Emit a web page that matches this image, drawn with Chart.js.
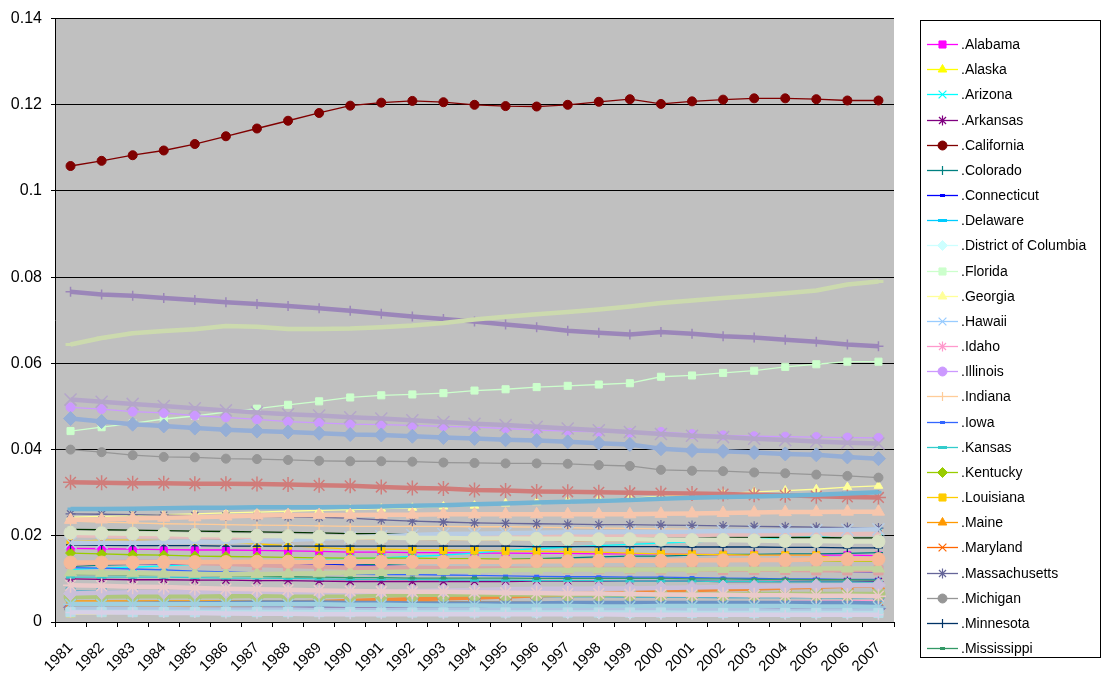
<!DOCTYPE html>
<html>
<head>
<meta charset="utf-8">
<script src="https://cdn.jsdelivr.net/npm/chart.js@4.4.0/dist/chart.umd.min.js"></script>
<style>
html, body { margin: 0; padding: 0; background: #ffffff; }
canvas { display: block; }
</style>
</head>
<body>
<canvas id="chart" width="1102" height="675"></canvas>
<script>
// Share of U.S. population by state, 1981-2007
const years = ['1981','1982','1983','1984','1985','1986','1987','1988','1989','1990','1991','1992','1993','1994','1995','1996','1997','1998','1999','2000','2001','2002','2003','2004','2005','2006','2007'];
const yTicks = [0, 0.02, 0.04, 0.06, 0.08, 0.1, 0.12, 0.14];

const alabama = [0.0171,0.0170,0.0169,0.0168,0.0167,0.0167,0.0166,0.0165,0.0164,0.0162,0.0162,0.0161,0.0161,0.0160,0.0160,0.0159,0.0159,0.0158,0.0158,0.0158,0.0157,0.0156,0.0156,0.0155,0.0155,0.0155,0.0154];
const alaska = [0.0018,0.0019,0.0021,0.0022,0.0023,0.0023,0.0022,0.0022,0.0022,0.0022,0.0022,0.0023,0.0023,0.0023,0.0023,0.0022,0.0022,0.0022,0.0022,0.0022,0.0022,0.0022,0.0022,0.0022,0.0023,0.0023,0.0023];
const arizona = [0.0122,0.0125,0.0127,0.0130,0.0134,0.0137,0.0140,0.0143,0.0145,0.0147,0.0149,0.0152,0.0155,0.0160,0.0166,0.0170,0.0174,0.0177,0.0180,0.0183,0.0186,0.0189,0.0192,0.0195,0.0198,0.0204,0.0210];
const arkansas = [0.0100,0.0099,0.0098,0.0098,0.0097,0.0097,0.0096,0.0096,0.0095,0.0094,0.0094,0.0094,0.0094,0.0094,0.0094,0.0095,0.0095,0.0095,0.0095,0.0095,0.0095,0.0094,0.0094,0.0094,0.0094,0.0094,0.0094];
const california = [0.1058,0.1070,0.1083,0.1094,0.1109,0.1127,0.1145,0.1163,0.1181,0.1198,0.1205,0.1209,0.1206,0.1200,0.1197,0.1196,0.1200,0.1207,0.1213,0.1202,0.1208,0.1212,0.1215,0.1215,0.1213,0.1210,0.1210];
const colorado = [0.0129,0.0132,0.0134,0.0135,0.0136,0.0136,0.0135,0.0134,0.0133,0.0132,0.0134,0.0136,0.0139,0.0142,0.0145,0.0147,0.0149,0.0151,0.0153,0.0153,0.0155,0.0157,0.0157,0.0158,0.0158,0.0159,0.0161];
const connecticut = [0.0136,0.0135,0.0135,0.0134,0.0134,0.0134,0.0134,0.0134,0.0133,0.0132,0.0130,0.0128,0.0126,0.0124,0.0123,0.0122,0.0121,0.0120,0.0121,0.0121,0.0120,0.0120,0.0119,0.0118,0.0118,0.0117,0.0116];
const delaware = [0.0026,0.0026,0.0026,0.0026,0.0027,0.0027,0.0027,0.0027,0.0027,0.0027,0.0027,0.0027,0.0027,0.0027,0.0027,0.0027,0.0027,0.0027,0.0028,0.0028,0.0028,0.0028,0.0028,0.0029,0.0029,0.0029,0.0029];
const districtOfColumbia = [0.0027,0.0027,0.0027,0.0026,0.0026,0.0026,0.0025,0.0025,0.0025,0.0024,0.0024,0.0023,0.0022,0.0022,0.0021,0.0020,0.0020,0.0019,0.0019,0.0020,0.0020,0.0020,0.0020,0.0019,0.0019,0.0019,0.0020];
const florida = [0.0443,0.0452,0.0461,0.0471,0.0478,0.0487,0.0495,0.0504,0.0512,0.0521,0.0526,0.0528,0.0531,0.0537,0.0540,0.0545,0.0548,0.0551,0.0554,0.0569,0.0572,0.0578,0.0583,0.0592,0.0598,0.0604,0.0604];
const georgia = [0.0243,0.0245,0.0247,0.0249,0.0251,0.0253,0.0255,0.0257,0.0259,0.0261,0.0263,0.0265,0.0268,0.0270,0.0275,0.0278,0.0281,0.0284,0.0287,0.0292,0.0295,0.0298,0.0302,0.0305,0.0308,0.0313,0.0316];
const hawaii = [0.0043,0.0043,0.0043,0.0044,0.0044,0.0044,0.0044,0.0044,0.0044,0.0044,0.0045,0.0045,0.0045,0.0045,0.0045,0.0044,0.0044,0.0044,0.0043,0.0043,0.0043,0.0043,0.0043,0.0043,0.0043,0.0043,0.0042];
const idaho = [0.0042,0.0042,0.0042,0.0042,0.0041,0.0041,0.0041,0.0041,0.0041,0.0041,0.0041,0.0042,0.0043,0.0044,0.0044,0.0045,0.0045,0.0045,0.0046,0.0046,0.0046,0.0047,0.0047,0.0048,0.0049,0.0049,0.0050];
const illinois = [0.0498,0.0494,0.0488,0.0485,0.0479,0.0475,0.0470,0.0465,0.0462,0.0459,0.0458,0.0456,0.0454,0.0452,0.0449,0.0445,0.0443,0.0441,0.0439,0.0441,0.0436,0.0433,0.0431,0.0430,0.0429,0.0428,0.0427];
const indiana = [0.0234,0.0232,0.0230,0.0228,0.0227,0.0226,0.0225,0.0224,0.0223,0.0222,0.0222,0.0222,0.0222,0.0221,0.0221,0.0220,0.0219,0.0218,0.0217,0.0216,0.0215,0.0214,0.0213,0.0213,0.0212,0.0211,0.0211];
const iowa = [0.0126,0.0125,0.0123,0.0121,0.0118,0.0116,0.0114,0.0113,0.0112,0.0111,0.0110,0.0110,0.0109,0.0108,0.0107,0.0106,0.0105,0.0105,0.0104,0.0104,0.0103,0.0102,0.0101,0.0100,0.0100,0.0099,0.0099];
const kansas = [0.0104,0.0104,0.0104,0.0104,0.0103,0.0102,0.0102,0.0101,0.0100,0.0099,0.0099,0.0099,0.0098,0.0097,0.0097,0.0096,0.0096,0.0096,0.0095,0.0095,0.0095,0.0094,0.0094,0.0093,0.0093,0.0093,0.0092];
const kentucky = [0.0160,0.0158,0.0156,0.0155,0.0153,0.0152,0.0151,0.0150,0.0149,0.0148,0.0148,0.0148,0.0147,0.0147,0.0146,0.0146,0.0145,0.0145,0.0144,0.0143,0.0143,0.0142,0.0142,0.0142,0.0141,0.0141,0.0141];
const louisiana = [0.0187,0.0190,0.0190,0.0189,0.0188,0.0186,0.0181,0.0177,0.0173,0.0169,0.0169,0.0168,0.0167,0.0166,0.0165,0.0164,0.0163,0.0162,0.0160,0.0158,0.0157,0.0156,0.0155,0.0155,0.0155,0.0142,0.0143];
const maine = [0.0049,0.0049,0.0049,0.0049,0.0049,0.0049,0.0049,0.0049,0.0050,0.0049,0.0048,0.0048,0.0047,0.0047,0.0046,0.0046,0.0046,0.0045,0.0045,0.0045,0.0045,0.0045,0.0045,0.0045,0.0045,0.0044,0.0044];
const maryland = [0.0186,0.0186,0.0187,0.0188,0.0189,0.0190,0.0191,0.0192,0.0193,0.0192,0.0192,0.0192,0.0191,0.0191,0.0190,0.0190,0.0189,0.0189,0.0189,0.0188,0.0188,0.0188,0.0188,0.0188,0.0188,0.0187,0.0187];
const massachusetts = [0.0251,0.0250,0.0249,0.0248,0.0247,0.0246,0.0245,0.0244,0.0243,0.0241,0.0237,0.0234,0.0232,0.0230,0.0229,0.0228,0.0227,0.0226,0.0226,0.0225,0.0224,0.0223,0.0222,0.0221,0.0220,0.0219,0.0218];
const michigan = [0.0400,0.0394,0.0387,0.0383,0.0382,0.0379,0.0378,0.0376,0.0374,0.0373,0.0373,0.0372,0.0370,0.0369,0.0368,0.0368,0.0367,0.0364,0.0362,0.0353,0.0351,0.0350,0.0347,0.0345,0.0342,0.0339,0.0335];
const minnesota = [0.0179,0.0178,0.0177,0.0177,0.0177,0.0176,0.0176,0.0176,0.0176,0.0176,0.0176,0.0176,0.0176,0.0176,0.0176,0.0175,0.0175,0.0175,0.0175,0.0175,0.0174,0.0174,0.0174,0.0173,0.0173,0.0172,0.0172];
const mississippi = [0.0110,0.0110,0.0109,0.0109,0.0108,0.0107,0.0106,0.0105,0.0104,0.0103,0.0103,0.0102,0.0102,0.0102,0.0102,0.0101,0.0101,0.0101,0.0101,0.0101,0.0100,0.0100,0.0099,0.0099,0.0098,0.0098,0.0097];
const missouri = [0.0215,0.0214,0.0213,0.0212,0.0211,0.0210,0.0209,0.0208,0.0207,0.0205,0.0205,0.0204,0.0203,0.0202,0.0201,0.0201,0.0200,0.0200,0.0199,0.0198,0.0198,0.0197,0.0197,0.0196,0.0196,0.0195,0.0195];
const montana = [0.0034,0.0035,0.0035,0.0035,0.0035,0.0034,0.0034,0.0033,0.0033,0.0032,0.0032,0.0032,0.0033,0.0033,0.0033,0.0033,0.0033,0.0032,0.0032,0.0032,0.0032,0.0032,0.0032,0.0032,0.0032,0.0032,0.0032];
const nebraska = [0.0069,0.0068,0.0068,0.0068,0.0067,0.0066,0.0065,0.0065,0.0064,0.0063,0.0063,0.0063,0.0063,0.0062,0.0062,0.0062,0.0062,0.0062,0.0061,0.0061,0.0061,0.0060,0.0060,0.0060,0.0060,0.0059,0.0059];
const nevada = [0.0037,0.0038,0.0038,0.0039,0.0040,0.0041,0.0042,0.0044,0.0046,0.0049,0.0051,0.0053,0.0055,0.0057,0.0059,0.0062,0.0064,0.0066,0.0068,0.0072,0.0074,0.0076,0.0078,0.0080,0.0082,0.0084,0.0085];
const newHampshire = [0.0041,0.0041,0.0042,0.0043,0.0043,0.0044,0.0045,0.0045,0.0045,0.0044,0.0044,0.0043,0.0043,0.0043,0.0043,0.0043,0.0044,0.0044,0.0044,0.0044,0.0044,0.0044,0.0044,0.0044,0.0044,0.0044,0.0043];
const newJersey = [0.0324,0.0323,0.0322,0.0322,0.0321,0.0321,0.0320,0.0319,0.0317,0.0316,0.0313,0.0311,0.0310,0.0306,0.0305,0.0303,0.0302,0.0301,0.0300,0.0299,0.0298,0.0297,0.0295,0.0294,0.0292,0.0290,0.0289];
const newMexico = [0.0058,0.0059,0.0060,0.0060,0.0060,0.0060,0.0061,0.0061,0.0061,0.0061,0.0062,0.0063,0.0063,0.0064,0.0064,0.0064,0.0064,0.0064,0.0064,0.0064,0.0064,0.0064,0.0065,0.0065,0.0065,0.0065,0.0065];
const newYork = [0.0766,0.0760,0.0757,0.0752,0.0747,0.0742,0.0738,0.0733,0.0728,0.0722,0.0715,0.0709,0.0703,0.0697,0.0690,0.0684,0.0676,0.0671,0.0667,0.0673,0.0669,0.0663,0.0660,0.0655,0.0650,0.0644,0.0640];
const northCarolina = [0.0262,0.0262,0.0263,0.0264,0.0265,0.0265,0.0266,0.0266,0.0266,0.0267,0.0268,0.0270,0.0271,0.0273,0.0275,0.0277,0.0279,0.0281,0.0283,0.0286,0.0288,0.0290,0.0291,0.0293,0.0295,0.0298,0.0301];
const northDakota = [0.0029,0.0029,0.0029,0.0029,0.0029,0.0028,0.0028,0.0027,0.0026,0.0026,0.0025,0.0025,0.0024,0.0024,0.0024,0.0024,0.0023,0.0023,0.0023,0.0023,0.0022,0.0022,0.0022,0.0022,0.0022,0.0021,0.0021];
const ohio = [0.0472,0.0465,0.0459,0.0455,0.0450,0.0446,0.0443,0.0441,0.0438,0.0435,0.0434,0.0431,0.0428,0.0426,0.0423,0.0421,0.0418,0.0415,0.0412,0.0402,0.0398,0.0396,0.0393,0.0390,0.0388,0.0383,0.0379];
const oklahoma = [0.0135,0.0138,0.0140,0.0139,0.0137,0.0135,0.0132,0.0130,0.0128,0.0126,0.0126,0.0126,0.0125,0.0124,0.0124,0.0123,0.0123,0.0123,0.0123,0.0122,0.0122,0.0121,0.0121,0.0121,0.0120,0.0120,0.0120];
const oregon = [0.0115,0.0114,0.0113,0.0112,0.0112,0.0111,0.0111,0.0112,0.0113,0.0115,0.0116,0.0117,0.0118,0.0119,0.0120,0.0121,0.0122,0.0122,0.0122,0.0122,0.0122,0.0123,0.0123,0.0123,0.0124,0.0124,0.0124];
const pennsylvania = [0.0516,0.0511,0.0506,0.0501,0.0496,0.0491,0.0486,0.0482,0.0479,0.0475,0.0472,0.0468,0.0464,0.0460,0.0457,0.0453,0.0449,0.0445,0.0441,0.0436,0.0432,0.0429,0.0425,0.0422,0.0419,0.0416,0.0414];
const rhodeIsland = [0.0041,0.0041,0.0041,0.0041,0.0041,0.0041,0.0041,0.0041,0.0041,0.0040,0.0040,0.0039,0.0038,0.0038,0.0037,0.0037,0.0037,0.0036,0.0036,0.0037,0.0037,0.0037,0.0037,0.0037,0.0036,0.0036,0.0035];
const southCarolina = [0.0138,0.0138,0.0138,0.0139,0.0139,0.0139,0.0140,0.0140,0.0140,0.0140,0.0140,0.0140,0.0140,0.0140,0.0140,0.0141,0.0141,0.0142,0.0142,0.0142,0.0143,0.0143,0.0144,0.0144,0.0145,0.0146,0.0146];
const southDakota = [0.0030,0.0030,0.0030,0.0030,0.0029,0.0029,0.0029,0.0029,0.0028,0.0028,0.0028,0.0028,0.0028,0.0028,0.0028,0.0027,0.0027,0.0027,0.0027,0.0027,0.0027,0.0027,0.0027,0.0026,0.0026,0.0026,0.0026];
const tennessee = [0.0201,0.0200,0.0199,0.0199,0.0198,0.0198,0.0197,0.0197,0.0196,0.0196,0.0197,0.0198,0.0199,0.0200,0.0201,0.0202,0.0202,0.0202,0.0202,0.0202,0.0202,0.0203,0.0203,0.0204,0.0204,0.0205,0.0205];
const texas = [0.0644,0.0659,0.0670,0.0675,0.0679,0.0687,0.0685,0.0680,0.0680,0.0681,0.0684,0.0688,0.0694,0.0702,0.0708,0.0714,0.0719,0.0725,0.0732,0.0740,0.0746,0.0752,0.0757,0.0763,0.0769,0.0783,0.0790];
const utah = [0.0066,0.0068,0.0069,0.0069,0.0069,0.0070,0.0070,0.0069,0.0069,0.0069,0.0071,0.0072,0.0073,0.0074,0.0076,0.0077,0.0077,0.0078,0.0078,0.0079,0.0080,0.0081,0.0082,0.0083,0.0084,0.0085,0.0086];
const vermont = [0.0023,0.0023,0.0023,0.0023,0.0023,0.0023,0.0023,0.0023,0.0023,0.0023,0.0022,0.0022,0.0022,0.0022,0.0022,0.0022,0.0022,0.0022,0.0022,0.0022,0.0021,0.0021,0.0021,0.0021,0.0021,0.0021,0.0021];
const virginia = [0.0237,0.0238,0.0240,0.0242,0.0243,0.0245,0.0247,0.0248,0.0248,0.0248,0.0249,0.0249,0.0250,0.0250,0.0250,0.0250,0.0250,0.0250,0.0250,0.0251,0.0252,0.0253,0.0254,0.0255,0.0255,0.0256,0.0256];
const washington = [0.0184,0.0184,0.0184,0.0185,0.0186,0.0186,0.0188,0.0190,0.0193,0.0196,0.0199,0.0202,0.0204,0.0205,0.0206,0.0207,0.0208,0.0208,0.0209,0.0209,0.0210,0.0211,0.0211,0.0212,0.0213,0.0214,0.0215];
const westVirginia = [0.0085,0.0084,0.0082,0.0081,0.0079,0.0077,0.0076,0.0075,0.0073,0.0072,0.0071,0.0070,0.0070,0.0069,0.0068,0.0067,0.0066,0.0066,0.0065,0.0064,0.0063,0.0063,0.0062,0.0062,0.0061,0.0061,0.0060];
const wisconsin = [0.0207,0.0206,0.0205,0.0204,0.0202,0.0201,0.0200,0.0199,0.0198,0.0196,0.0196,0.0195,0.0195,0.0194,0.0194,0.0193,0.0193,0.0192,0.0192,0.0191,0.0190,0.0190,0.0189,0.0188,0.0188,0.0187,0.0187];
const wyoming = [0.0022,0.0022,0.0022,0.0021,0.0021,0.0020,0.0019,0.0019,0.0018,0.0018,0.0018,0.0018,0.0018,0.0018,0.0018,0.0018,0.0018,0.0018,0.0017,0.0017,0.0017,0.0017,0.0017,0.0017,0.0017,0.0017,0.0017];

const stateNames = ['.Alabama','.Alaska','.Arizona','.Arkansas','.California','.Colorado','.Connecticut','.Delaware','.District of Columbia','.Florida','.Georgia','.Hawaii','.Idaho','.Illinois','.Indiana','.Iowa','.Kansas','.Kentucky','.Louisiana','.Maine','.Maryland','.Massachusetts','.Michigan','.Minnesota','.Mississippi','.Missouri','.Montana','.Nebraska','.Nevada','.New Hampshire','.New Jersey','.New Mexico','.New York','.North Carolina','.North Dakota','.Ohio','.Oklahoma','.Oregon','.Pennsylvania','.Rhode Island','.South Carolina','.South Dakota','.Tennessee','.Texas','.Utah','.Vermont','.Virginia','.Washington','.West Virginia','.Wisconsin','.Wyoming'];
const stateValues = [alabama, alaska, arizona, arkansas, california, colorado, connecticut, delaware, districtOfColumbia, florida, georgia, hawaii, idaho, illinois, indiana, iowa, kansas, kentucky, louisiana, maine, maryland, massachusetts, michigan, minnesota, mississippi, missouri, montana, nebraska, nevada, newHampshire, newJersey, newMexico, newYork, northCarolina, northDakota, ohio, oklahoma, oregon, pennsylvania, rhodeIsland, southCarolina, southDakota, tennessee, texas, utah, vermont, virginia, washington, westVirginia, wisconsin, wyoming];

// Series styling
const seriesColors = ['#FF00FF','#FFFF00','#00FFFF','#800080','#800000','#008080','#0000FF','#00CCFF','#CCFFFF','#CCFFCC','#FFFF99','#99CCFF','#FF99CC','#CC99FF','#FFCC99','#3366FF','#33CCCC','#99CC00','#FFCC00','#FF9900','#FF6600','#666699','#969696','#003366','#339966','#003300',
  '#8E78B0','#5AAFCB','#F28A3A','#6C93C6','#D07C7A','#AFC77F','#9B86B9','#72B4D4','#F8A96E','#95AED6','#DDA3A2','#C1D39E','#B4A6C9','#9FD0E0','#F6B998','#B0C6E2','#E6BDBC','#CCDAAE','#CABFDA','#B7DDE8','#F7C6AC','#B8CCE4','#EBCACA','#D9E2C6','#D8D0E6'];
const markerCycle = ['diamond','square','triangle','x','star','circle','plus','dash','longdash'];
const FIRST_HEAVY = 26;   // series from Montana on use the heavier line weight

const markerDefs = {
  diamond:  { style: 'rectRot',  thin: 5,   heavy: 7,   filled: true },
  square:   { style: 'rect',     thin: 5,   heavy: 6.5, filled: true },
  triangle: { style: 'triangle', thin: 5,   heavy: 7,   filled: true },
  x:        { style: 'crossRot', thin: 5.5, heavy: 8.5, filled: false },
  star:     { style: 'star',     thin: 5,   heavy: 7.5, filled: false },
  circle:   { style: 'circle',   thin: 4.5, heavy: 6.5, filled: true },
  plus:     { style: 'cross',    thin: 4.5, heavy: 5,   filled: false },
  dash:     { style: 'line',     thin: 2.5, heavy: 3,   filled: false, bar: true },
  longdash: { style: 'line',     thin: 4.5, heavy: 5,   filled: false, bar: true }
};

const datasets = stateNames.map((name, k) => {
  const heavy = k >= FIRST_HEAVY;
  const m = markerDefs[markerCycle[(k + 1) % 9]];
  const color = seriesColors[k];
  const pbw = m.bar ? 3 : (m.filled ? 1 : (heavy ? 1.5 : 1.2));
  return {
    label: name,
    data: stateValues[k],
    borderColor: color,
    backgroundColor: color,
    borderWidth: heavy ? 4.5 : 1.3,
    tension: 0,
    pointStyle: m.style,
    pointRadius: heavy ? m.heavy : m.thin,
    pointHoverRadius: heavy ? m.heavy : m.thin,
    pointBorderWidth: pbw,
    pointBackgroundColor: color,
    pointBorderColor: color,
    order: 100 - k
  };
});

const fontFamily = '"Liberation Sans", Arial, sans-serif';

const plotBackground = {
  id: 'plotBackground',
  beforeDraw(chart) {
    const { ctx, chartArea: a } = chart;
    ctx.save();
    ctx.fillStyle = '#C0C0C0';
    ctx.fillRect(a.left, a.top, a.right - a.left, a.bottom - a.top);
    ctx.restore();
  }
};

// Boxed legend on the right listing the first 25 series
const sideLegend = {
  id: 'sideLegend',
  afterDraw(chart) {
    const ctx = chart.ctx;
    ctx.save();
    ctx.strokeStyle = '#000';
    ctx.lineWidth = 1;
    ctx.strokeRect(920.5, 20.5, 180, 637);
    ctx.font = '14px ' + fontFamily;
    ctx.textBaseline = 'middle';
    ctx.textAlign = 'left';
    for (let k = 0; k < 25; k++) {
      const ds = chart.data.datasets[k];
      const y = Math.round(44 + k * 25.17) + 0.5;
      ctx.strokeStyle = ds.borderColor;
      ctx.lineWidth = ds.borderWidth;
      ctx.beginPath();
      ctx.moveTo(927, y);
      ctx.lineTo(958, y);
      ctx.stroke();
      ctx.fillStyle = ds.pointBackgroundColor;
      ctx.strokeStyle = ds.pointBorderColor;
      ctx.lineWidth = ds.pointBorderWidth;
      Chart.helpers.drawPoint(ctx, { pointStyle: ds.pointStyle, radius: ds.pointRadius, rotation: 0, borderWidth: ds.pointBorderWidth }, 942.5, y);
      ctx.fillStyle = '#000';
      ctx.fillText(ds.label, 961, y + 0.5);
    }
    ctx.restore();
  }
};

new Chart(document.getElementById('chart'), {
  type: 'line',
  data: { labels: years, datasets: datasets },
  options: {
    responsive: false,
    animation: false,
    devicePixelRatio: 1,
    layout: { padding: { top: 16, right: 208, bottom: 0, left: 0 } },
    plugins: { legend: { display: false }, tooltip: { enabled: false } },
    elements: { line: { fill: false } },
    scales: {
      x: {
        type: 'category',
        offset: true,
        grid: { offset: true, drawOnChartArea: false, drawTicks: true, tickLength: 5, color: '#000', lineWidth: 1 },
        border: { color: '#000', width: 1 },
        ticks: { autoSkip: false, maxRotation: 45, minRotation: 45, color: '#000', padding: 12, font: { size: 15, family: fontFamily } },
        afterFit(scale) { scale.height = 53; }
      },
      y: {
        min: 0,
        max: 0.14,
        afterBuildTicks(scale) { scale.ticks = yTicks.map(v => ({ value: v })); },
        grid: { color: '#000', lineWidth: 1, drawTicks: true, tickLength: 4 },
        border: { color: '#000', width: 1 },
        ticks: {
          color: '#000',
          padding: 9,
          font: { size: 16, family: fontFamily },
          callback: (v) => String(+Number(v).toFixed(2))
        },
        afterFit(scale) { scale.width = 55; }
      }
    }
  },
  plugins: [plotBackground, sideLegend]
});
</script>
</body>
</html>
